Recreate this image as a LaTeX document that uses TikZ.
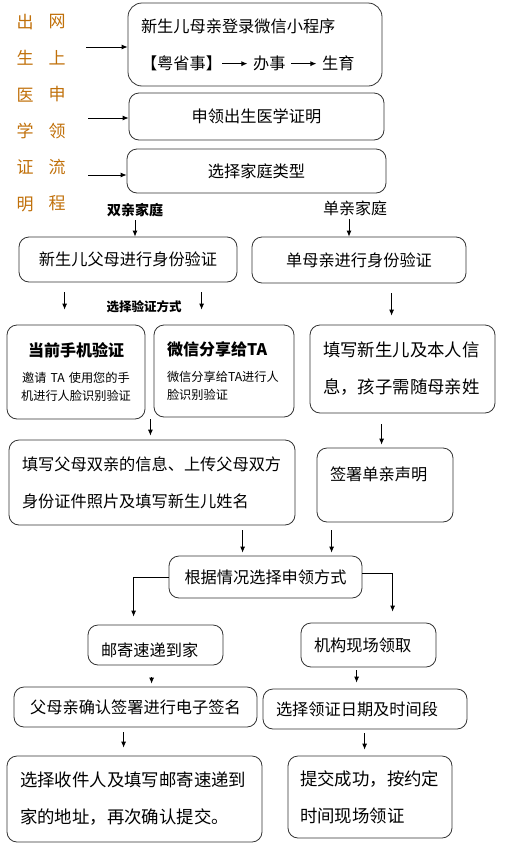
\documentclass[tikz,border=0pt]{standalone}
\usepackage{fontspec}
\setmainfont{Noto Sans CJK SC}
\usetikzlibrary{arrows.meta,positioning}
\definecolor{titleorange}{HTML}{C0700A}
\newcommand{\fnt}{\fontsize{16.2}{37}\selectfont}
\newcommand{\widefnt}{\fontsize{17.4}{37}\selectfont}
\newcommand{\subfnt}{\fontsize{12.2}{18}\selectfont}
\newcommand{\smallarr}{\tikz[baseline=0pt]\draw[-{Latex[length=6pt,width=5pt]},line width=0.8pt] (0pt,5.5pt) -- (25pt,5.5pt);}

\begin{document}
\begin{tikzpicture}[x=1pt, y=-1pt,
    box/.style={draw=black!80, line width=0.8pt, rounded corners=10pt,
                inner xsep=13pt, inner ysep=2pt, font=\fnt},
    arr/.style={-{Latex[length=6pt,width=5pt]}, line width=0.8pt},
    col/.style={text=titleorange, font=\fontsize{17}{36.4}\selectfont, align=center, inner sep=0pt}
]
\useasboundingbox (0,0) rectangle (508,849);

% title column
\node[col] (colA) at (25,113) {出\\生\\医\\学\\证\\明};
\node[col] (colB) at (57,113) {网\\上\\申\\领\\流\\程};

\node[box, rounded corners=14pt, text width=228, minimum height=83, align=left] (login) at (255,44.5)
    {新生儿母亲登录微信小程序\\【粤省事】\smallarr\ 办事 \smallarr\ 生育};
\node[box, text width=229, minimum height=47, align=center] (apply) at (256.5,116.5) {申领出生医学证明};
\node[box, text width=233, minimum height=44, align=center] (family) at (256.5,171) {选择家庭类型};

\coordinate (p1) at (86,47);
\coordinate (p2) at (88,118);
\coordinate (p3) at (88,175);
\draw[arr] (p1) -- (p1 -| login.west);
\draw[arr] (p2) -- (p2 -| apply.west);
\draw[arr] (p3) -- (p3 -| family.west);

% family type
\node[font=\bfseries\fontsize{14}{14}\selectfont] (both) at (135,210) {双亲家庭};
\node[font=\fontsize{16}{16}\selectfont] (single) at (355,208) {单亲家庭};

\node[box, text width=192, minimum height=45, align=center] (parents) at (128,259.5) {新生儿父母进行身份验证};
\node[box, text width=188, minimum height=46, align=center] (mother) at (359,260) {单母亲进行身份验证};

\draw[arr] (both.south) -- (both.south |- parents.north);
\coordinate (s1) at ([xshift=-6]single.south);
\draw[arr] (s1) -- (s1 |- mother.north);

\node[font=\bfseries\fontsize{12.5}{12.5}\selectfont] (way) at (144,307) {选择验证方式};

\node[box, font=\subfnt, text width=112, minimum height=94, align=center] (phone) at (76,372)
    {{\bfseries\fontsize{16}{18}\selectfont 当前手机验证}\\[8pt]邀请~TA~使用您的手\\机进行人脸识别验证};
\node[box, font=\subfnt, text width=114, minimum height=92, align=left] (share) at (224,371)
    {{\bfseries\fontsize{16}{18}\selectfont 微信分享给TA}\\[8pt]微信分享给TA进行人\\脸识别验证};
\node[box, font=\widefnt, text width=159, minimum height=88, align=left] (fillone) at (402.5,369)
    {填写新生儿及本人信\\息，孩子需随母亲姓};

\coordinate (a1) at ([xshift=46]parents.south west);
\coordinate (a2) at ([xshift=183]parents.south west);
\coordinate (a3) at ([xshift=140]mother.south west);
\draw[arr, shorten <=10pt, shorten >=15pt] (a1) -- (a1 |- phone.north);
\draw[arr, shorten <=10pt, shorten >=15pt] (a2) -- (a2 |- share.north);
\draw[arr, shorten <=10pt, shorten >=9pt] (a3) -- (a3 |- fillone.north);

\node[box, text width=260, minimum height=85, align=left] (fillboth) at (152,482.5)
    {填写父母双亲的信息、上传父母双方\\身份证件照片及填写新生儿姓名};
\node[box, text width=110, minimum height=74, text depth=22, align=left] (declare) at (385,485) {签署单亲声明};

\coordinate (a4) at ([xshift=5]phone.south east);
\coordinate (a5) at ([xshift=72]fillone.south west);
\draw[arr, shorten >=4pt] (a4) -- (a4 |- fillboth.north);
\draw[arr, shorten <=11pt, shorten >=3pt] (a5) -- (a5 |- declare.north);

% claim mode
\node[box, text width=167, minimum height=42, align=center] (choose) at (265.5,577) {根据情况选择申领方式};

\coordinate (a6) at ([xshift=234]fillboth.south west);
\coordinate (a7) at ([xshift=15]declare.south west);
\draw[arr, shorten <=5pt, shorten >=3pt] (a6) -- (a6 |- choose.north);
\draw[arr, shorten <=8pt, shorten >=3pt] (a7) -- (a7 |- choose.north);

\node[box, text width=109, minimum height=40, text height=24, align=left] (post) at (155.5,645) {邮寄速递到家};
\node[box, text width=109, minimum height=44, align=left] (site) at (368.5,645) {机构现场领取};

\coordinate (a8) at ([xshift=46]post.north west);
\coordinate (a9) at ([xshift=92]site.north west);
\draw[arr, shorten >=8pt] (choose.west) -| (a8);
\draw[arr, shorten >=11pt] ([yshift=4]choose.east) -| (a9);

\node[box, text width=217, minimum height=40, align=center] (sign) at (135.5,707) {父母亲确认签署进行电子签名};
\node[box, text width=178, minimum height=40, align=left] (pickdate) at (365,709) {选择领证日期及时间段};

\coordinate (b1) at ([xshift=64]post.south west);
\coordinate (b2) at ([xshift=56]site.south west);
\draw[arr, shorten <=12pt, shorten >=3pt] (b1) -- (b1 |- sign.north);
\draw[arr, shorten <=3pt, shorten >=6pt] (b2) -- (b2 |- pickdate.north);

\node[box, font=\widefnt, text width=229, minimum height=86, align=left] (mailaddr) at (134.5,799)
    {选择收件人及填写邮寄速递到\\家的地址，再次确认提交。};
\node[box, font=\widefnt, inner xsep=12pt, text width=140, minimum height=82, align=left] (done) at (370,797)
    {提交成功，按约定\\时间现场领证};

\coordinate (b3) at ([xshift=110]sign.south west);
\coordinate (b4) at ([xshift=102]pickdate.south west);
\draw[arr, shorten <=5pt, shorten >=8pt] (b3) -- (b3 |- mailaddr.north);
\draw[arr, shorten <=4pt, shorten >=6pt] (b4) -- (b4 |- done.north);
\end{tikzpicture}
\end{document}
